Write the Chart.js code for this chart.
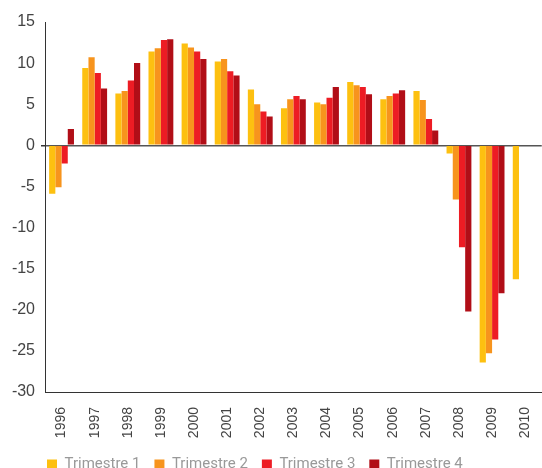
<!DOCTYPE html>
<html>
<head>
<meta charset="utf-8">
<script src="https://cdn.jsdelivr.net/npm/chart.js@4/dist/chart.umd.min.js"></script>
<style>
  html, body { margin: 0; padding: 0; background: #fff; overflow: hidden; }
  #wrap { position: absolute; left: 0; top: 0; width: 542px; height: 468px; overflow: hidden; }
</style>
</head>
<body>
<div id="wrap"><canvas id="barChart" width="549" height="482"></canvas></div>
<script>
// data
const years = ['1996', '1997', '1998', '1999', '2000', '2001', '2002', '2003', '2004', '2005', '2006', '2007', '2008', '2009', '2010'];
const trim1 = [-5.9, 9.4, 6.3, 11.4, 12.4, 10.2, 6.8, 4.5, 5.2, 7.7, 5.6, 6.6, -1.0, -26.4, -16.3];
const trim2 = [-5.1, 10.7, 6.6, 11.8, 11.9, 10.5, 5.0, 5.6, 5.0, 7.3, 6.0, 5.5, -6.6, -25.3, null];
const trim3 = [-2.2, 8.8, 7.9, 12.8, 11.4, 9.0, 4.1, 6.0, 5.8, 7.1, 6.3, 3.2, -12.4, -23.6, null];
const trim4 = [2.0, 6.9, 10.0, 12.9, 10.5, 8.5, 3.5, 5.6, 7.1, 6.2, 6.7, 1.8, -20.2, -18.0, null];

const tickFont = "'Liberation Sans', Arial, sans-serif";
const legendFont = "Roboto, 'Liberation Sans', sans-serif";

const barChart = document.getElementById('barChart');

// move the legend so it starts under the y axis, like the original
const legendShift = {
    id: 'legendShift',
    beforeDraw(chart) {
        chart.legend.left = 33;
    }
};

const barChartData = {
    labels: years,
    datasets: [
        { label: 'Trimestre 1', data: trim1, backgroundColor: '#fdc010' },
        { label: 'Trimestre 2', data: trim2, backgroundColor: '#f7941d' },
        { label: 'Trimestre 3', data: trim3, backgroundColor: '#ed1c24' },
        { label: 'Trimestre 4', data: trim4, backgroundColor: '#b10e17' },
    ]
};

new Chart(barChart, {
    type: 'bar',
    data: barChartData,
    plugins: [legendShift],
    options: {
        responsive: false,
        animation: false,
        datasets: {
            bar: {
                barPercentage: 1,
                categoryPercentage: 0.75,
            }
        },
        layout: {
            padding: { top: 22, left: 0, right: 0, bottom: 0 }
        },
        plugins: {
            title: { display: false },
            tooltip: { enabled: false },
            legend: {
                display: true,
                position: 'bottom',
                align: 'start',
                labels: {
                    boxWidth: 10,
                    boxHeight: 10,
                    padding: 14,
                    color: '#999',
                    font: { family: legendFont, size: 15 },
                }
            },
        },
        scales: {
            x: {
                grid: { display: false },
                border: { display: true, color: '#333', width: 1 },
                ticks: {
                    color: '#444',
                    minRotation: 90,
                    maxRotation: 90,
                    padding: 7,
                    font: { family: tickFont, size: 14 },
                },
                afterFit: (s) => { s.height = 51; }
            },
            y: {
                min: -30,
                max: 15,
                border: { display: true, color: '#333', width: 1 },
                grid: {
                    color: (ctx) => ctx.tick && ctx.tick.value === 0 ? '#555' : 'rgba(0,0,0,0)',
                    lineWidth: (ctx) => ctx.tick && ctx.tick.value === 0 ? 1.5 : 0,
                    tickColor: '#333',
                    tickLength: 4,
                    drawTicks: true,
                },
                ticks: {
                    stepSize: 5,
                    color: '#444',
                    padding: 6,
                    font: { family: tickFont, size: 16 },
                },
                afterFit: (s) => { s.width = 45; }
            }
        }
    },
});
</script>
</body>
</html>
